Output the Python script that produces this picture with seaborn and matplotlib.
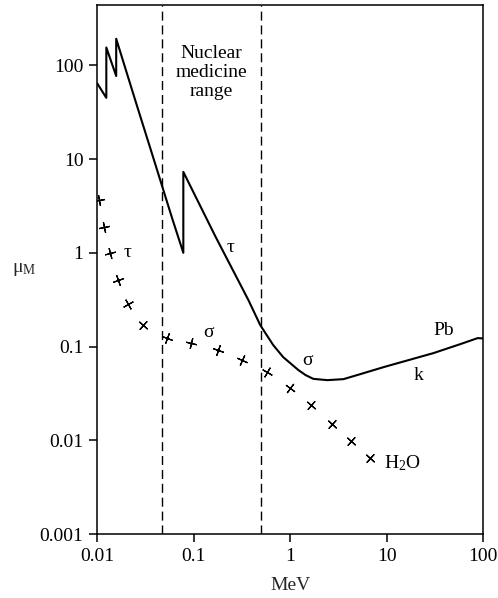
import numpy as np
import pandas as pd
import matplotlib
matplotlib.use("Agg")
import matplotlib.pyplot as plt
import seaborn as sns

# ---- data ----
pb_energy = [0.01, 0.0124, 0.0124, 0.0157, 0.0157, 0.0250, 0.0354, 0.047, 0.060, 0.078,
             0.078, 0.1675, 0.369, 0.49, 0.668, 0.848, 1.22, 1.45, 1.74, 2.43, 3.57,
             5.35, 9.3, 30.6, 58.0, 88.0, 100.0]
pb_mu = [64, 45, 155, 77, 192, 41, 13.1, 5.15, 2.3, 1.0,
         7.3, 1.50, 0.313, 0.169, 0.1035, 0.077, 0.056, 0.0495, 0.0452, 0.0438, 0.0449,
         0.0508, 0.0603, 0.0851, 0.106, 0.123, 0.122]

h2o_energy = [0.0105, 0.0118, 0.0136, 0.0165, 0.021, 0.030, 0.053, 0.094, 0.18,
              0.32, 0.58, 1.0, 1.65, 2.7, 4.3, 6.7]
h2o_mu = [3.65, 1.9, 1.0, 0.51, 0.285, 0.17, 0.123, 0.11, 0.091,
          0.071, 0.053, 0.036, 0.024, 0.015, 0.0098, 0.0065]

range_edges = [0.047, 0.5]

labels_text = ["τ", "τ", "σ", "σ", "Pb", "k", "H$_2$O"]
labels_x = [0.0204, 0.239, 0.141, 1.51, 39, 21.5, 9.3]
labels_y = [1.0, 1.15, 0.142, 0.0716, 0.15, 0.0495, 0.0057]

x_ticks = [0.01, 0.1, 1, 10, 100]
x_ticklabels = ["0.01", "0.1", "1", "10", "100"]
y_ticks = [0.001, 0.01, 0.1, 1, 10, 100]
y_ticklabels = ["0.001", "0.01", "0.1", "1", "10", "100"]

# ---- style ----
sns.set_style("ticks")
plt.rcParams["font.family"] = ["Liberation Serif", "DejaVu Serif"]
plt.rcParams["mathtext.fontset"] = "custom"
plt.rcParams["mathtext.rm"] = "Liberation Serif"
plt.rcParams["mathtext.it"] = "Liberation Serif:italic"
FS = 14

fig = plt.figure(figsize=(4.98, 5.98), dpi=100)
ax = fig.add_axes([0.1954, 0.107, 0.7745, 0.8846])
ax.set_xscale("log")
ax.set_yscale("log")
ax.set_xlim(0.01, 100)
ax.set_ylim(0.001, 440)

pb_df = pd.DataFrame({"E": pb_energy, "mu": pb_mu})
sns.lineplot(data=pb_df, x="E", y="mu", sort=False, estimator=None,
             color="black", linewidth=1.5, ax=ax)

# dashed lines bounding nuclear medicine range
for xe in range_edges:
    ax.axvline(xe, color="black", linewidth=1.0, linestyle=(0, (6.5, 3.5)))

# H2O markers, plus-shaped, oriented along the curve direction
lx = np.log10(h2o_energy)
ly = np.log10(h2o_mu)
dx = np.gradient(lx) * 96.5
dy = np.gradient(ly) * 93.8
angles = np.degrees(np.arctan2(dy, dx))
for xe, ye, ang in zip(h2o_energy, h2o_mu, angles):
    ax.plot([xe], [ye], linestyle="none", marker=(4, 2, ang), markersize=8,
            markeredgewidth=0.9, color="black")

for t, xx, yy in zip(labels_text, labels_x, labels_y):
    ha = "left" if t.startswith("H") else "center"
    ax.text(xx, yy, t, fontsize=FS, ha=ha, va="center", color="black")

ax.text(0.153, 84, "Nuclear\nmedicine\nrange", fontsize=FS, ha="center",
        va="center", linespacing=1.15, color="black")

ax.set_xticks(x_ticks)
ax.set_xticklabels(x_ticklabels)
ax.set_yticks(y_ticks)
ax.set_yticklabels(y_ticklabels)
ax.minorticks_off()
ax.tick_params(axis="both", which="major", direction="out", length=6,
               width=1.1, labelsize=FS, colors="black", pad=4)
for s in ax.spines.values():
    s.set_visible(True)
    s.set_linewidth(1.1)
    s.set_color("black")

ax.set_xlabel("MeV", fontsize=FS, labelpad=9)
ax.set_ylabel("μ$_\\mathrm{M}$", fontsize=FS, rotation=0, va="center", ha="center")
ax.yaxis.set_label_coords(-0.19, 0.50)

fig.savefig("out.png", dpi=100, facecolor="white")
